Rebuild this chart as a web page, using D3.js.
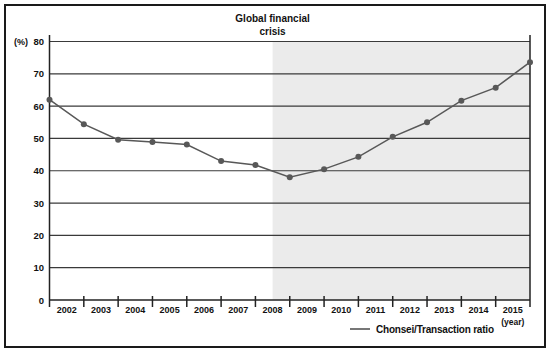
<!DOCTYPE html>
<html>
<head>
<meta charset="utf-8">
<script src="https://cdn.jsdelivr.net/npm/d3@7"></script>
<style>
  body { margin: 0; background: #fff; }
  svg text { font-family: "Liberation Sans", Arial, sans-serif; font-weight: bold; fill: #111; }
</style>
</head>
<body>
<svg id="chart" width="550" height="351"></svg>
<script>
// year labels sit between ticks, ratio points sit on the tick marks
var years = ['2002', '2003', '2004', '2005', '2006', '2007', '2008',
             '2009', '2010', '2011', '2012', '2013', '2014', '2015'];
var ratio = [62, 54.4, 49.6, 48.9, 48.1, 43, 41.8,
             38, 40.5, 44.3, 50.5, 55, 61.7, 65.7, 73.6];
var yTicks = [0, 10, 20, 30, 40, 50, 60, 70, 80];
var crisisStart = 6.5; // middle of the 2008 band
var seriesName = 'Chonsei/Transaction ratio';

(function(d3) {
  var svg = d3.select('#chart');
  var left = 49.5, right = 530, top = 41.5, bottom = 300;

  var x = d3.scaleLinear().domain([0, years.length]).range([left, right]);
  var y = d3.scaleLinear().domain([0, 80]).range([bottom, top]);

  // outer frame
  svg.append('rect')
    .attr('x', 5).attr('y', 5)
    .attr('width', 540).attr('height', 342)
    .attr('fill', 'none')
    .attr('stroke', '#1a1a1a')
    .attr('stroke-width', 2);

  // crisis shading
  svg.append('rect')
    .attr('x', x(crisisStart))
    .attr('y', y(80))
    .attr('width', x(years.length) - x(crisisStart))
    .attr('height', y(0) - y(80))
    .attr('fill', '#ebebeb');

  svg.append('text')
    .attr('x', x(crisisStart))
    .attr('y', 22)
    .attr('text-anchor', 'middle')
    .attr('font-size', 10)
    .text('Global financial');
  svg.append('text')
    .attr('x', x(crisisStart))
    .attr('y', 35)
    .attr('text-anchor', 'middle')
    .attr('font-size', 10)
    .text('crisis');

  // horizontal grid
  svg.append('g').selectAll('line')
    .data(yTicks.slice(1))
    .join('line')
    .attr('x1', left).attr('x2', right)
    .attr('y1', y).attr('y2', y)
    .attr('stroke', '#3a3a3a')
    .attr('stroke-width', 1.2);

  // y labels
  svg.append('g').selectAll('text')
    .data(yTicks)
    .join('text')
    .attr('x', 44)
    .attr('y', function(d) { return y(d) + 3.5; })
    .attr('text-anchor', 'end')
    .attr('font-size', 9.5)
    .text(function(d) { return d; });

  svg.append('text')
    .attr('x', 14)
    .attr('y', y(80) + 3.5)
    .attr('font-size', 9)
    .text('(%)');

  // axis frame: left, right, bottom
  var axis = svg.append('g').attr('stroke', '#222').attr('stroke-width', 1.5);
  axis.append('line')
    .attr('x1', left).attr('x2', left)
    .attr('y1', 35).attr('y2', 307);
  axis.append('line')
    .attr('x1', right).attr('x2', right)
    .attr('y1', 35).attr('y2', 307);
  axis.append('line')
    .attr('x1', left).attr('x2', right)
    .attr('y1', bottom).attr('y2', bottom);

  // band ticks
  axis.selectAll('line.tick')
    .data(d3.range(1, years.length))
    .join('line')
    .attr('class', 'tick')
    .attr('x1', x).attr('x2', x)
    .attr('y1', bottom - 4).attr('y2', bottom + 7);

  svg.append('g').selectAll('text')
    .data(years)
    .join('text')
    .attr('x', function(d, i) { return x(i + 0.5); })
    .attr('y', 313)
    .attr('text-anchor', 'middle')
    .attr('font-size', 9)
    .text(function(d) { return d; });

  svg.append('text')
    .attr('x', x(years.length - 0.5))
    .attr('y', 325)
    .attr('text-anchor', 'middle')
    .attr('font-size', 8.5)
    .text('(year)');

  // ratio line
  var line = d3.line()
    .x(function(d, i) { return x(i); })
    .y(function(d) { return y(d); });

  svg.append('path')
    .datum(ratio)
    .attr('d', line)
    .attr('fill', 'none')
    .attr('stroke', '#585858')
    .attr('stroke-width', 1.5);

  svg.append('g').selectAll('circle')
    .data(ratio)
    .join('circle')
    .attr('cx', function(d, i) { return x(i); })
    .attr('cy', y)
    .attr('r', 3)
    .attr('fill', '#585858');

  // legend
  svg.append('line')
    .attr('x1', 350).attr('x2', 370)
    .attr('y1', 329).attr('y2', 329)
    .attr('stroke', '#777')
    .attr('stroke-width', 2);
  svg.append('text')
    .attr('x', 376)
    .attr('y', 333)
    .attr('font-size', 10)
    .attr('letter-spacing', -0.2)
    .text(seriesName);
})(d3);
</script>
</body>
</html>
